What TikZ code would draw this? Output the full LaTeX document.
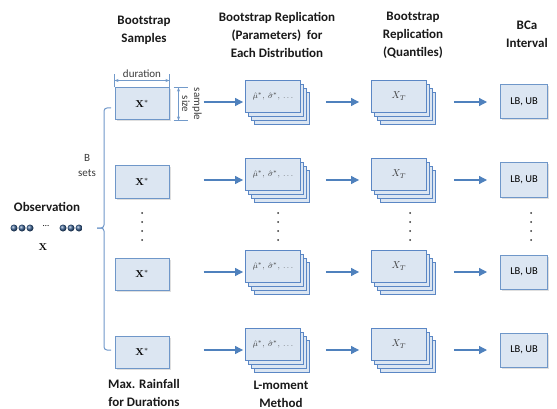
\documentclass[tikz,border=0pt]{standalone}
\usepackage[no-math]{fontspec}
\setmainfont{Carlito}
\usepackage{amsmath}
\usepackage{bm}
\usetikzlibrary{arrows.meta,shadows}
\definecolor{boxfill}{HTML}{DCE6F2}
\definecolor{boxline}{HTML}{6F97C9}
\definecolor{stackline}{HTML}{5B87C5}
\definecolor{arrowblue}{HTML}{4F81BD}
\definecolor{obsblue}{HTML}{3D6496}
\definecolor{labelgray}{HTML}{3A3A3A}

\begin{document}
\begin{tikzpicture}[x=1pt,y=-1pt,
    heading/.style={font=\fontsize{13}{18}\selectfont\bfseries, align=center, text=black!90},
    smalltext/.style={font=\fontsize{11}{12}\selectfont, text=labelgray},
    samplebox/.style={draw=boxline, fill=boxfill, line width=1pt, minimum width=54pt, minimum height=32pt,
        drop shadow={shadow xshift=1.5pt, shadow yshift=-1.5pt, opacity=0.25}},
    stackbox/.style={draw=stackline, fill=boxfill, line width=0.9pt, minimum width=55pt, minimum height=32pt},
    backsheet/.style={draw=stackline, fill=boxfill, line width=0.9pt},
    bcabox/.style={draw=boxline, fill=boxfill, line width=1pt, minimum width=47pt, minimum height=34pt,
        drop shadow={shadow xshift=1.5pt, shadow yshift=-1.5pt, opacity=0.25}},
    flow/.style={draw=arrowblue, line width=1.2pt, -{Triangle[length=8pt,width=8pt]}},
    dimline/.style={draw=arrowblue!80, line width=0.6pt},
    obsdot/.style={circle, inner sep=0pt, minimum size=7pt, shade, ball color=obsblue},
    braceline/.style={draw=boxline, line width=1pt, rounded corners=3pt}]
\useasboundingbox (0,0) rectangle (557,409);

% column headings
\node[heading] (hsamp) at (144,30) {Bootstrap\\Samples};
\node[heading] (hpar) at (277,35) {Bootstrap Replication\\(Parameters)~ for\\Each Distribution};
\node[heading] (hquant) at (413,35) {Bootstrap\\Replication\\(Quantiles)};
\node[heading] (hbca) at (527,34) {BCa\\Interval};
\node[heading] (hmax) at (144,393) {Max. Rainfall\\for Durations};
\node[heading] (hlmom) at (281,394) {L-moment\\Method};

% observation
\node[heading] (obs) at (47,207) {Observation};
\foreach \i/\x in {1/14,2/22,3/30,4/63,5/71,6/79}
    \node[obsdot] (d\i) at (\x,228) {};
\node[font=\small] (ell) at (46,226) {\ldots};
\node (xobs) at (43,247) {$\mathbf{X}$};

% brace over the B sets
\draw[braceline] (111,108) -- (104,108) -- (104,228) -- (97,228);
\draw[braceline] (97,228) -- (104,228) -- (104,350) -- (111,350);
\node[smalltext, align=center, font=\fontsize{11}{15}\selectfont] (bsets) at (87,166) {B\\sets};

% rows
\foreach \r/\y in {1/102,2/180,3/272,4/350}{
    \coordinate (row\r) at (0,\y);
    \node[samplebox] (xs\r) at (142,\y+2) {$\mathbf{X}^{*}$};
    \foreach \k in {3,2,1}
        \draw[backsheet] (245.5+3*\k,\y-22+4*\k) rectangle ++(55,32);
    \node[stackbox] (par\r) at (273,\y-6) {\fontsize{8.5}{9}\selectfont\color{labelgray}$\hat{\mu}^{*},\ \hat{\sigma}^{*},\ \ldots$};
    \foreach \k in {3,2,1}
        \draw[backsheet] (371.5+3*\k,\y-22+4*\k) rectangle ++(55,32);
    \node[stackbox] (qu\r) at (399,\y-6) {\color{labelgray}$X_T$};
    \node[bcabox] (bca\r) at (524,\y) {\fontsize{10.5}{11}\selectfont LB, UB};
    \draw[flow, shorten <=34pt, shorten >=2pt] (xs\r.east |- row\r) -- (par\r.west |- row\r);
    \draw[flow, shorten <=25pt, shorten >=12pt] (par\r.east |- row\r) -- (qu\r.west |- row\r);
    \draw[flow, shorten <=27pt, shorten >=13pt] (qu\r.east |- row\r) -- (bca\r.west |- row\r);
}

% vertical dots
\foreach \cx in {142,278,410,531}
    \foreach \dy in {213,222,231,240}
        \fill[black!80] (\cx,\dy) circle (1pt);

% duration and sample size marks
\draw[dimline] (xs1.north west) -- +(0,-13);
\draw[dimline] (xs1.north east) -- +(0,-13);
\draw[dimline, {Stealth[length=4pt]}-{Stealth[length=4pt]}] ([yshift=7pt]xs1.north west) -- ([yshift=7pt]xs1.north east)
    node[midway, above=-1pt, smalltext] (durlab) {duration};
\draw[dimline] ([xshift=4pt]xs1.north east) -- +(14,0);
\draw[dimline] ([xshift=4pt]xs1.south east) -- +(14,0);
\draw[dimline, {Stealth[length=4pt]}-{Stealth[length=4pt]}] ([xshift=9pt]xs1.north east) -- ([xshift=9pt]xs1.south east);
\node[smalltext, align=center, rotate=-90] (sizelab) at (192,104) {sample\\size};
\end{tikzpicture}
\end{document}
